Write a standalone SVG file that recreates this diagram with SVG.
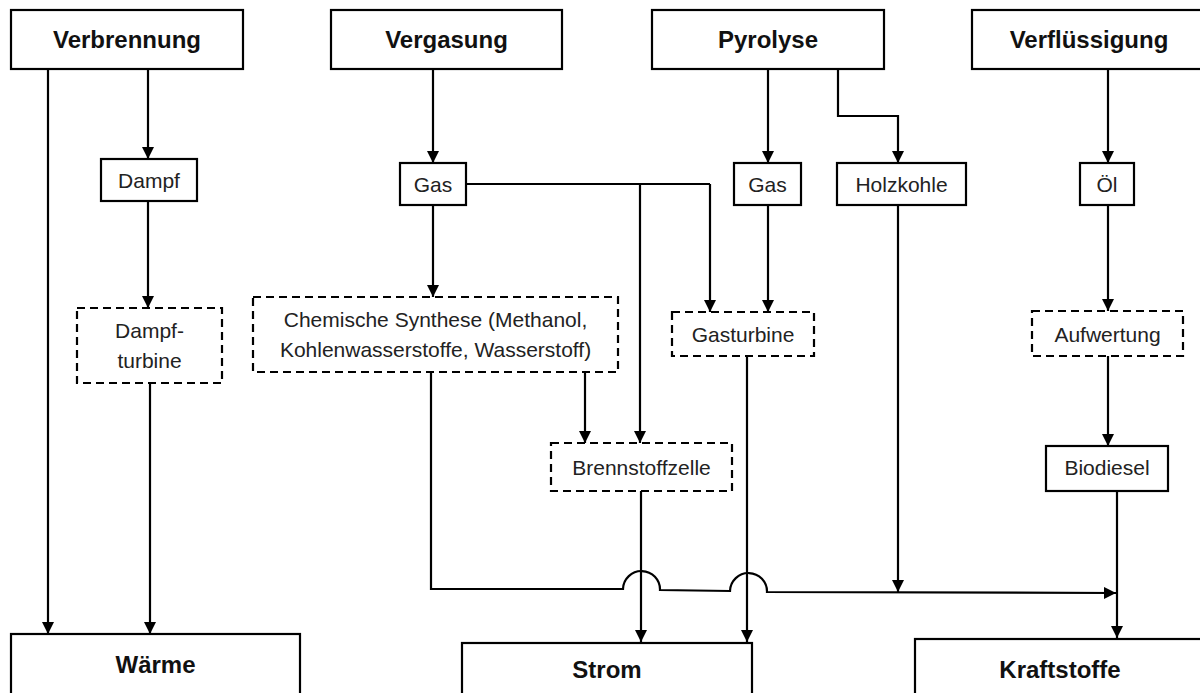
<svg xmlns="http://www.w3.org/2000/svg" width="1200" height="693" viewBox="0 0 1200 693">
<defs>
<marker id="arr" viewBox="0 0 12 12" refX="12" refY="6" markerWidth="12" markerHeight="12" markerUnits="userSpaceOnUse" orient="auto">
<path d="M0,0 L12,6 L0,12 Z" fill="#000"/>
</marker>
<style>
.box{fill:#fff;stroke:#000;stroke-width:2.2}
.dash{fill:#fff;stroke:#000;stroke-width:2.2;stroke-dasharray:8 5}
.h{font-family:"Liberation Sans",Arial,sans-serif;font-weight:bold;font-size:24px;text-anchor:middle;fill:#111}
.t{font-family:"Liberation Sans",Arial,sans-serif;font-size:21px;text-anchor:middle;fill:#222}
.c{fill:none;stroke:#000;stroke-width:2.2}
.a{fill:none;stroke:#000;stroke-width:2.2;marker-end:url(#arr)}
</style>
</defs>
<rect width="1200" height="693" fill="#fff"/>

<g id="connectors">
<path class="a" d="M48,69 V634"/>
<path class="a" d="M148,69 V159"/>
<path class="a" d="M148,201 V308"/>
<path class="a" d="M150,383 V634"/>
<path class="a" d="M433,69 V163"/>
<path class="a" d="M433,205 V297"/>
<path class="c" d="M466,184 H710"/>
<path class="a" d="M640,184 V443"/>
<path class="a" d="M710,184 V312"/>
<path class="a" d="M585,372 V443"/>
<path class="a" d="M768,69 V163"/>
<path class="a" d="M768,205 V312"/>
<path class="a" d="M838,69 V116 H898 V163"/>
<path class="a" d="M898,205 V592"/>
<path class="a" d="M641,491 V642"/>
<path class="a" d="M747,356 V642"/>
<path class="a" d="M1108,69 V163"/>
<path class="a" d="M1108,205 V311"/>
<path class="a" d="M1108,356 V446"/>
<path class="a" d="M1117,491 V638"/>
<path class="a" d="M431,372 V589 H623 A18.5,18.5 0 0 1 660,590 L730,591 A18.5,18.5 0 0 1 767,592 L1116,593"/>
</g>

<g id="verbrennung"><rect class="box" x="11" y="10" width="232" height="59"/><text class="h" x="127" y="48">Verbrennung</text></g>
<g id="vergasung"><rect class="box" x="331" y="10" width="231" height="59"/><text class="h" x="446.5" y="48">Vergasung</text></g>
<g id="pyrolyse"><rect class="box" x="652" y="10" width="232" height="59"/><text class="h" x="768" y="48">Pyrolyse</text></g>
<g id="verfluessigung"><rect class="box" x="972" y="10" width="234" height="59"/><text class="h" x="1089" y="48">Verflüssigung</text></g>

<g id="dampf"><rect class="box" x="101" y="159" width="96" height="42"/><text class="t" x="149" y="188">Dampf</text></g>
<g id="gas1"><rect class="box" x="400" y="163" width="66" height="42"/><text class="t" x="433" y="192">Gas</text></g>
<g id="gas2"><rect class="box" x="734" y="163" width="67" height="42"/><text class="t" x="767.5" y="192">Gas</text></g>
<g id="holzkohle"><rect class="box" x="837" y="163" width="129" height="42"/><text class="t" x="901.5" y="192">Holzkohle</text></g>
<g id="oel"><rect class="box" x="1080" y="163" width="54" height="42"/><text class="t" x="1107" y="192">Öl</text></g>

<g id="dampfturbine"><rect class="dash" x="77" y="308" width="145" height="75"/><text class="t" x="149.5" y="338">Dampf-</text><text class="t" x="149.5" y="368">turbine</text></g>
<g id="synthese"><rect class="dash" x="253" y="297" width="365" height="75"/><text class="t" x="435.5" y="327">Chemische Synthese (Methanol,</text><text class="t" x="435.5" y="357">Kohlenwasserstoffe, Wasserstoff)</text></g>
<g id="gasturbine"><rect class="dash" x="672" y="312" width="142" height="44"/><text class="t" x="743" y="342">Gasturbine</text></g>
<g id="aufwertung"><rect class="dash" x="1032" y="311" width="151" height="45"/><text class="t" x="1107.5" y="342">Aufwertung</text></g>
<g id="brennstoffzelle"><rect class="dash" x="551" y="443" width="181" height="48"/><text class="t" x="641.5" y="475">Brennstoffzelle</text></g>
<g id="biodiesel"><rect class="box" x="1046" y="446" width="122" height="45"/><text class="t" x="1107" y="475">Biodiesel</text></g>

<g id="waerme"><rect class="box" x="11" y="634" width="289" height="70"/><text class="h" x="155.5" y="673">Wärme</text></g>
<g id="strom"><rect class="box" x="462" y="643" width="290" height="70"/><text class="h" x="607" y="678">Strom</text></g>
<g id="kraftstoffe"><rect class="box" x="915" y="639" width="290" height="70"/><text class="h" x="1060" y="678">Kraftstoffe</text></g>
</svg>
